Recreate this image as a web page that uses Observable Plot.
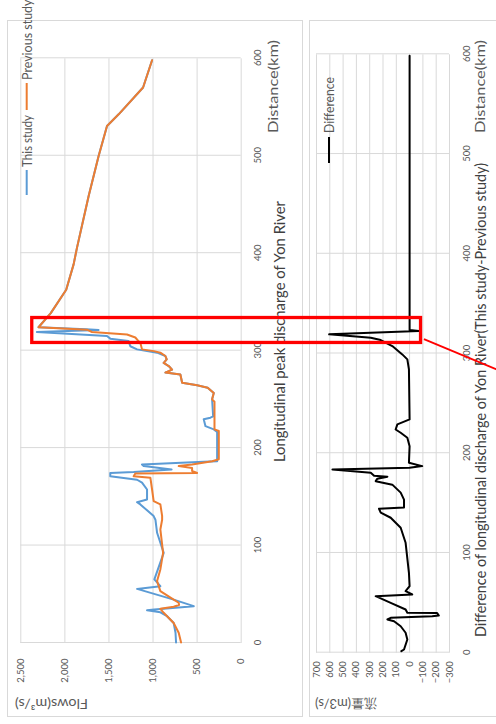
<!DOCTYPE html>
<html>
<head>
<meta charset="utf-8">
<script src="https://cdn.jsdelivr.net/npm/d3@7"></script>
<script src="https://cdn.jsdelivr.net/npm/@observablehq/plot@0.6"></script>
<style>
  html, body { margin: 0; padding: 0; background: #fff; overflow: hidden; width: 496px; height: 724px; }
  /* the sheet is laid out landscape and turned a quarter turn counter-clockwise */
  #sheet { position: absolute; left: 0; top: 0; width: 724px; height: 496px;
           transform-origin: 0 0; transform: translate(0, 724px) rotate(-90deg);
           font-family: Lato, sans-serif; }
  .panel { position: absolute; border: 1px solid #d9d9d9; box-sizing: border-box; background: #fff; }
  #p1 { left: 7px; top: 7px; width: 697px; height: 296px; }
  #p2 { left: 7px; top: 309px; width: 697px; height: 230px; }
  .chart { position: absolute; left: 0; }
  #overlay { position: absolute; left: 0; top: 0; overflow: visible; }
</style>
</head>
<body>
<div id="sheet">
  <div class="panel" id="p1"></div>
  <div class="panel" id="p2"></div>
</div>
<script>
// Longitudinal peak discharge, Yon River
const distanceTicks = [0, 100, 200, 300, 400, 500, 600];
const flowTicks = [0, 500, 1000, 1500, 2000, 2500];
const diffTicks = [-300, -200, -100, 0, 100, 200, 300, 400, 500, 600, 700];

// This study: distance (km) and peak flow (m3/s)
const thisKm = [0, 10, 20, 27, 31, 33, 33.8, 37.3, 44, 55, 57.8, 64.7, 92, 112.6, 126, 129.7, 141.7, 144, 146.8, 157, 164, 167, 170.7, 174, 175, 177.6, 181, 182.7, 185.5, 186, 216, 218.7, 222, 229, 230.7, 232, 249.5, 256, 261.5, 264, 266.6, 275, 277, 280, 283.7, 287, 290.5, 294, 297.4, 300.8, 304, 309.3, 311.8, 314.5, 318.6, 320.7, 321.5, 323.5, 338, 362, 388, 405, 458, 499, 530, 542, 569.5, 597.5];
const thisFlow = [739, 745, 766, 841, 917, 1068, 985, 538, 766, 1181, 917, 985, 879, 954, 973, 993, 1144, 1181, 1068, 1068, 1125, 1181, 1485, 1485, 1220, 790, 1106, 1125, 425, 273, 273, 311, 405, 425, 349, 318, 330, 311, 380, 500, 670, 690, 860, 784, 822, 879, 845, 860, 954, 1181, 1258, 1277, 1485, 1522, 2318, 1618, 1760, 2299, 2160, 1985, 1901, 1863, 1731, 1618, 1522, 1390, 1113, 1011];

// Previous study: distance (km) and peak flow (m3/s)
const prevKm = [0, 10, 20, 30.5, 34.6, 36.7, 38.5, 40.8, 44, 52.7, 63, 75, 92, 116, 126, 130, 141.7, 145, 157, 169, 170.7, 173.5, 174, 176, 179, 181, 182.7, 186, 188, 217, 218.7, 247, 249.5, 256, 261.5, 264, 266.6, 275, 277, 280, 283.7, 287, 290.5, 294, 297.4, 299, 300.8, 307.7, 309, 313, 316, 318.6, 321, 323.5, 338, 362, 388, 405, 458, 499, 530, 542, 569.5, 597.5];
const prevFlow = [682, 709, 766, 879, 917, 766, 705, 709, 766, 917, 954, 917, 886, 917, 897, 897, 917, 993, 1011, 1030, 1220, 1201, 500, 557, 557, 709, 557, 329, 254, 254, 303, 303, 330, 311, 380, 500, 670, 690, 860, 784, 822, 879, 845, 860, 917, 990, 1125, 1144, 1163, 1201, 1295, 1693, 1749, 2299, 2160, 1985, 1901, 1863, 1731, 1618, 1522, 1390, 1113, 1011];

// Difference (this study - previous study), m3/s
const diffKm = [1, 2.7, 12.7, 19.5, 26, 31.1, 32.8, 34.5, 36.1, 36.8, 39.3, 39.5, 42.8, 49.5, 56.2, 57.9, 61.2, 66.2, 79.6, 109.7, 124.8, 134.8, 140, 143.8, 145, 153, 160, 168, 171.5, 174, 176, 177, 180, 183.3, 185, 186.6, 190, 206.6, 215, 220, 223.3, 228.4, 233.4, 283.5, 293.6, 298.6, 307, 313, 315.3, 318.7, 322, 323, 598];
const diffValue = [62, 42, 17, 30, 67, 117, 167, 142, -170, -220, -207, 17, 30, 142, 255, -20, 30, 0, 5, 30, 67, 142, 217, 230, 42, 42, 67, 130, 255, 242, 167, 267, 292, 580, 0, -95, 5, 0, 17, 67, 105, 92, 0, 5, 17, 55, 130, 217, 292, 605, -70, 0, 0];

// stretch of river picked out in both charts
const highlightKm = [308.4, 334];
const highlightFlowTop = 2370;
const highlightDiffBottom = -86;

const gridColor = "#d9d9d9";
const tickColor = "#595959";
const titleColor = "#404040";
const blue = "#5B9BD5", orange = "#ED7D31";

const sheet = document.getElementById("sheet");

const flowPlot = Plot.plot({
  width: 724, height: 310,
  marginTop: 20.3, marginBottom: 69.3, marginLeft: 81, marginRight: 58.3,
  style: { background: "transparent", fontFamily: "Lato, sans-serif", fontSize: "9.5px", color: tickColor, overflow: "visible" },
  x: { domain: [0, 600], ticks: distanceTicks, tickSize: 0, tickPadding: 13, label: null },
  y: { domain: [0, 2500], ticks: flowTicks, tickSize: 0, tickPadding: 16, tickFormat: d3.format(","), label: null },
  marks: [
    Plot.ruleX(distanceTicks, { stroke: gridColor, strokeWidth: 1 }),
    Plot.ruleY(flowTicks, { stroke: gridColor, strokeWidth: 1 }),
    Plot.line(thisKm, { x: d => d, y: (d, i) => thisFlow[i], stroke: blue, strokeWidth: 2 }),
    Plot.line(prevKm, { x: d => d, y: (d, i) => prevFlow[i], stroke: orange, strokeWidth: 2 })
  ]
});
flowPlot.classList.add("chart");
flowPlot.style.top = "0px";
sheet.appendChild(flowPlot);

const diffTop = 300;
const diffPlot = Plot.plot({
  width: 724, height: 196,
  marginTop: 16, marginBottom: 47, marginLeft: 71.3, marginRight: 54.3,
  style: { background: "transparent", fontFamily: "Lato, sans-serif", fontSize: "9.5px", color: tickColor, overflow: "visible" },
  x: { domain: [0, 600], ticks: distanceTicks, tickSize: 0, tickPadding: 14, label: null },
  y: { domain: [-300, 700], ticks: diffTicks, tickSize: 0, tickPadding: 9, label: null },
  marks: [
    Plot.ruleX(distanceTicks, { stroke: gridColor, strokeWidth: 1 }),
    Plot.ruleY(diffTicks, { stroke: gridColor, strokeWidth: 1 }),
    Plot.line(diffKm, { x: d => d, y: (d, i) => diffValue[i], stroke: "#000", strokeWidth: 2 })
  ]
});
diffPlot.classList.add("chart");
diffPlot.style.top = diffTop + "px";
sheet.appendChild(diffPlot);

// titles, legends and the highlight box, in sheet coordinates
const svg = d3.select(sheet).append("svg")
  .attr("id", "overlay").attr("width", 724).attr("height", 496)
  .style("font-family", "Lato, sans-serif");

function label(text, x, y, size, color, anchor = "start", rotate = 0, length = null) {
  const t = svg.append("text")
    .attr("transform", `translate(${x},${y}) rotate(${rotate})`)
    .attr("text-anchor", anchor)
    .attr("font-size", size)
    .attr("fill", color)
    .text(text);
  if (length) t.attr("textLength", length).attr("lengthAdjust", "spacingAndGlyphs");
}

// chart 1
label("Longitudinal peak discharge of Yon River", 392.5, 285, 14.5, titleColor, "middle", 0, 261);
label("Distance(km)", 591, 278, 13.5, tickColor, "start", 0, 93);
label("Flows(m³/s)", 25, 51.5, 13.5, tickColor, "middle", -90, 73);
svg.append("line").attr("x1", 529).attr("x2", 554).attr("y1", 26.7).attr("y2", 26.7).attr("stroke", blue).attr("stroke-width", 2);
label("This study", 557, 31.5, 12.5, tickColor, "start", 0, 52);
svg.append("line").attr("x1", 614).attr("x2", 641).attr("y1", 26.7).attr("y2", 26.7).attr("stroke", orange).attr("stroke-width", 2);
label("Previous study", 644, 31.5, 12.5, tickColor);

// chart 2
label("Difference of longitudinal discharge of Yon River(This study-Previous study)", 87, 486, 14.5, titleColor, "start", 0, 474);
label("Distance(km)", 591, 485, 13.5, tickColor, "start", 0, 93);
label("流量(m3/s)", 25, 346, 13, tickColor, "middle", -90, 62);
svg.append("line").attr("x1", 561).attr("x2", 587).attr("y1", 329).attr("y2", 329).attr("stroke", "#000").attr("stroke-width", 2);
label("Difference", 591, 333.5, 12.5, tickColor, "start", 0, 56);

// highlight box spanning both charts, placed through the charts' scales
const fx = flowPlot.scale("x"), fy = flowPlot.scale("y"), dy = diffPlot.scale("y");
const bx0 = fx.apply(highlightKm[0]), bx1 = fx.apply(highlightKm[1]);
const by0 = fy.apply(highlightFlowTop), by1 = diffTop + dy.apply(highlightDiffBottom);
svg.append("rect")
  .attr("x", bx0).attr("y", by0).attr("width", bx1 - bx0).attr("height", by1 - by0)
  .attr("fill", "none").attr("stroke", "#ff0000").attr("stroke-width", 3.3);
svg.append("line")
  .attr("x1", bx0 + 3.3).attr("y1", by1 + 3.4)
  .attr("x2", bx0 + 3.3 - 0.417 * 200).attr("y2", by1 + 3.4 + 200)
  .attr("stroke", "#ff0000").attr("stroke-width", 1.8);
</script>
</body>
</html>
